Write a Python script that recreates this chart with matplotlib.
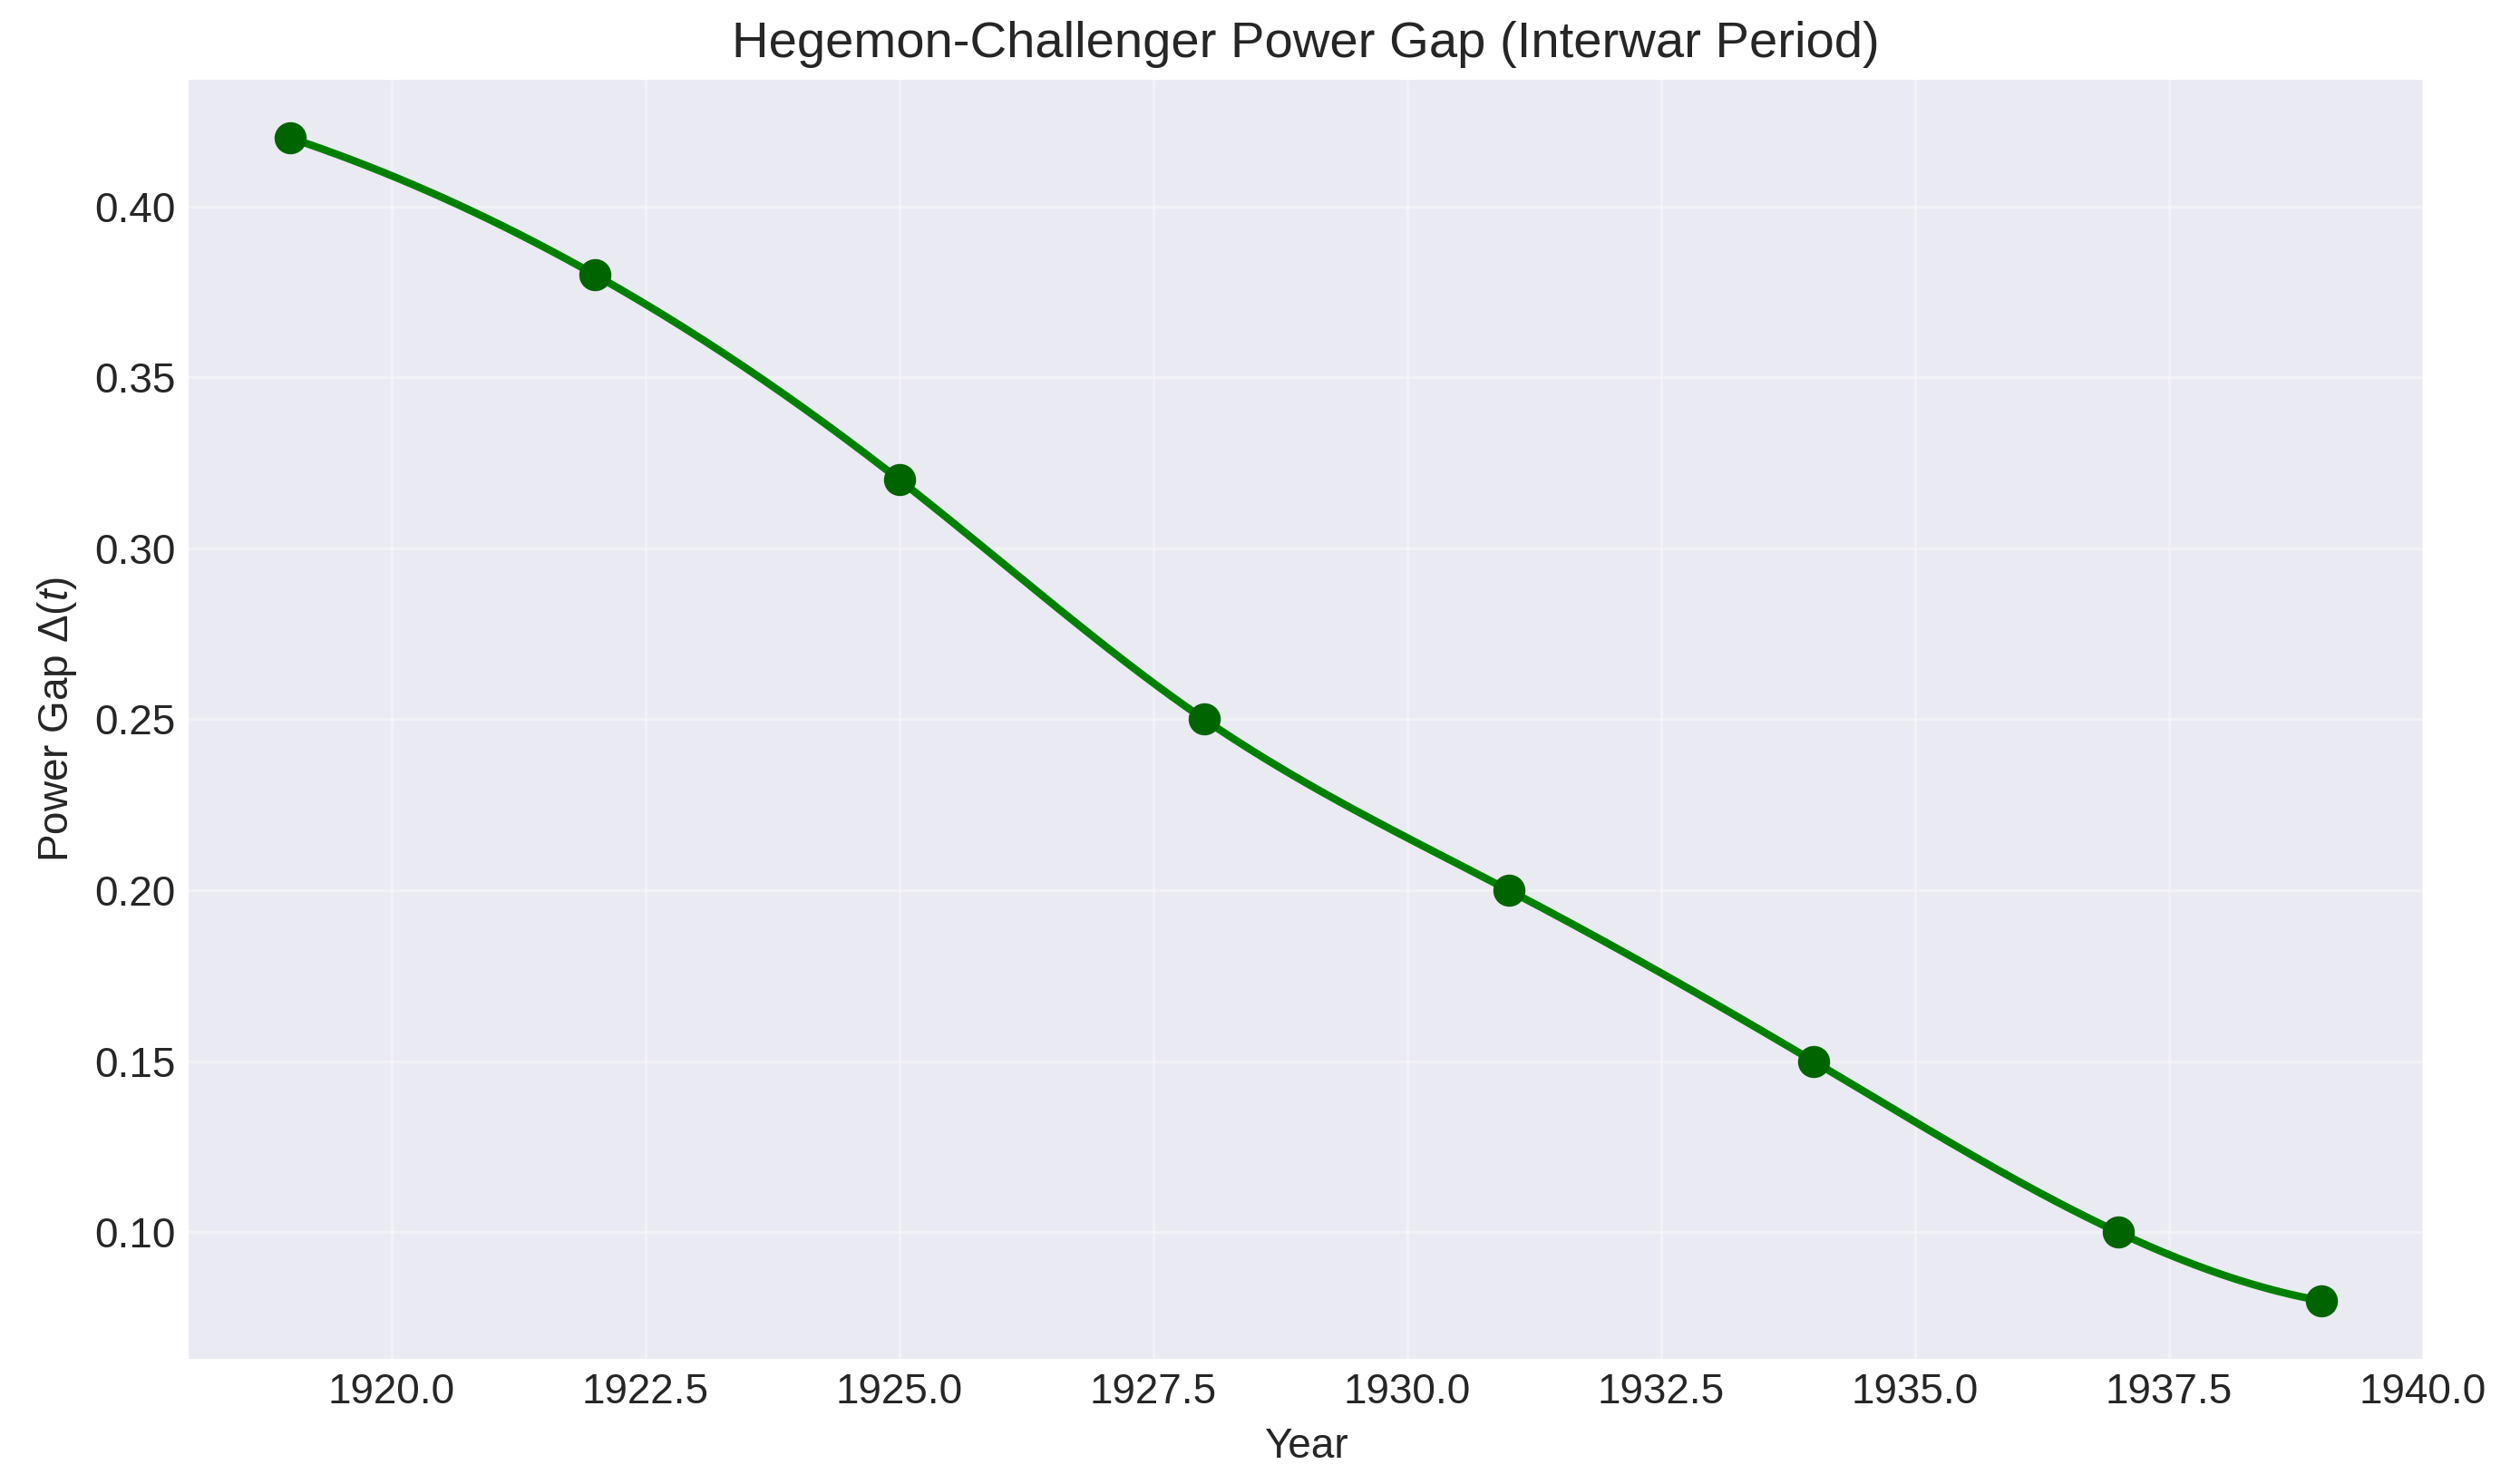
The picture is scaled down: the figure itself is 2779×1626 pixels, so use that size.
import numpy as np
import matplotlib
matplotlib.use('Agg')
import matplotlib.pyplot as plt

plt.style.use('seaborn-v0_8-darkgrid')
plt.rcParams['font.family'] = ['Liberation Sans', 'DejaVu Sans']
plt.rcParams['mathtext.fontset'] = 'custom'
plt.rcParams['mathtext.rm'] = 'Liberation Sans'
plt.rcParams['mathtext.it'] = 'Liberation Sans:italic'

years = [1919, 1922, 1925, 1928, 1931, 1934, 1937, 1939]
power_gap = [0.42, 0.38, 0.32, 0.25, 0.20, 0.15, 0.10, 0.08]


def cubic_spline(x, y, xs):
    # not-a-knot cubic spline, same as scipy make_interp_spline(k=3)
    x = np.asarray(x, float)
    y = np.asarray(y, float)
    n = len(x) - 1
    A = np.zeros((4 * n, 4 * n))
    b = np.zeros(4 * n)
    r = 0
    for i in range(n):
        h = x[i + 1] - x[i]
        A[r, 4 * i] = 1
        b[r] = y[i]
        r += 1
        A[r, 4 * i:4 * i + 4] = [1, h, h ** 2, h ** 3]
        b[r] = y[i + 1]
        r += 1
    for i in range(n - 1):
        h = x[i + 1] - x[i]
        A[r, 4 * i:4 * i + 4] = [0, 1, 2 * h, 3 * h ** 2]
        A[r, 4 * (i + 1) + 1] = -1
        r += 1
        A[r, 4 * i:4 * i + 4] = [0, 0, 2, 6 * h]
        A[r, 4 * (i + 1) + 2] = -2
        r += 1
    A[r, 3] = 1
    A[r, 7] = -1
    r += 1
    A[r, 4 * (n - 2) + 3] = 1
    A[r, 4 * (n - 1) + 3] = -1
    c = np.linalg.solve(A, b).reshape(n, 4)
    idx = np.clip(np.searchsorted(x, xs, side='right') - 1, 0, n - 1)
    t = xs - x[idx]
    return c[idx, 0] + c[idx, 1] * t + c[idx, 2] * t ** 2 + c[idx, 3] * t ** 3


xs = np.linspace(min(years), max(years), 400)
ys = cubic_spline(years, power_gap, xs)

fig = plt.figure(figsize=(2779 / 300, 1626 / 300), dpi=300)
ax = fig.add_subplot(111)
fig.subplots_adjust(left=0.0748, right=0.9615, top=0.9459, bottom=0.0781)

ax.plot(xs, ys, color='green', lw=2.0)
ax.plot(years, power_gap, 'o', color='darkgreen', markersize=7.5)

ax.set_title('Hegemon-Challenger Power Gap (Interwar Period)', fontsize=13.5)
ax.set_xlabel('Year', fontsize=11)
ax.set_ylabel(r'Power Gap $\Delta(t)$', fontsize=11)
ax.tick_params(labelsize=11)
ax.grid(True, alpha=0.35)

fig.savefig('out.png', dpi=300)
